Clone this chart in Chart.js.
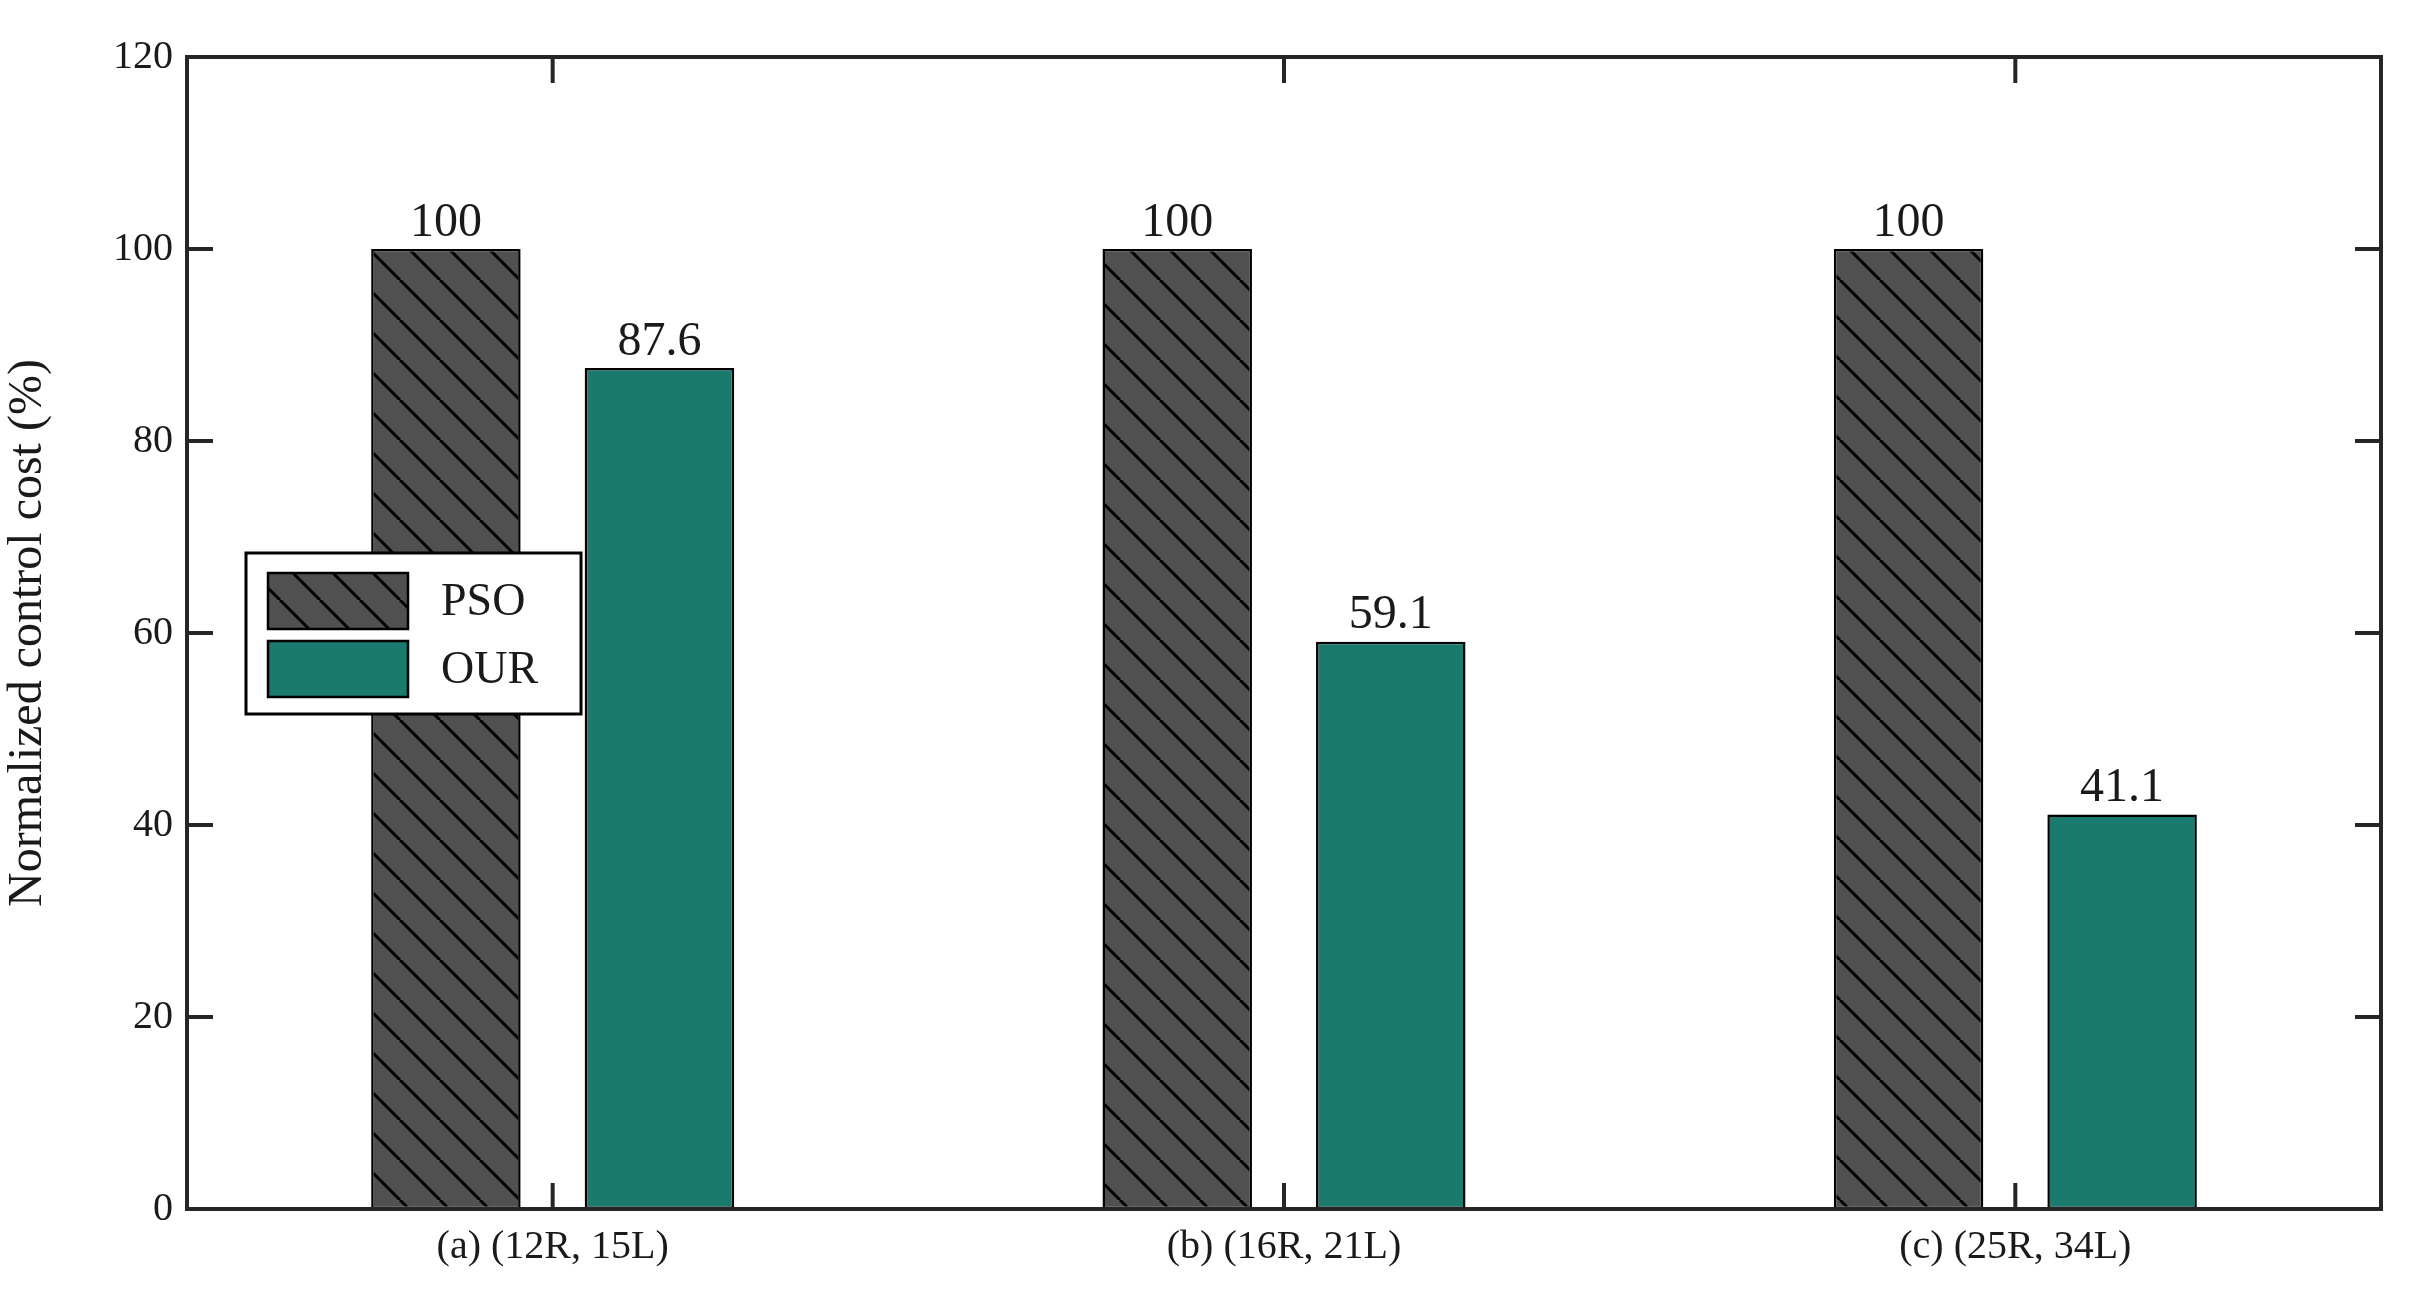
<!DOCTYPE html>
<html>
<head>
<meta charset="utf-8">
<script src="https://cdn.jsdelivr.net/npm/chart.js@4/dist/chart.umd.min.js"></script>
<style>
  html, body { margin: 0; padding: 0; background: #fff; }
  #wrap { width: 2409px; height: 1296px; }
</style>
</head>
<body>
<div id="wrap"><canvas id="chart" width="2409" height="1296"></canvas></div>
<script>
const categories = ["(a) (12R, 15L)", "(b) (16R, 21L)", "(c) (25R, 34L)"];
const psoValues = [100, 100, 100];
const ourValues = [87.6, 59.1, 41.1];
const yTicks = [0, 20, 40, 60, 80, 100, 120];

const FONT = "'Liberation Serif', 'Times New Roman', serif";

// diagonal "\" hatch for PSO bars
function makeHatch() {
    const c = document.createElement("canvas");
    c.width = 40; c.height = 40;
    const g = c.getContext("2d");
    g.fillStyle = "#505050";
    g.fillRect(0, 0, 40, 40);
    g.strokeStyle = "#000";
    g.lineWidth = 3;
    for (let k = -40; k <= 40; k += 40) {
        g.beginPath();
        g.moveTo(k, 0);
        g.lineTo(k + 40, 40);
        g.stroke();
    }
    return g.createPattern(c, "repeat");
}
const hatch = makeHatch();

const frameAndLabels = {
    id: "frameAndLabels",
    afterDatasetsDraw(chart) {
        const { ctx, chartArea: a, scales } = chart;
        ctx.save();
        // frame
        ctx.strokeStyle = "#262626";
        ctx.lineWidth = 4;
        ctx.strokeRect(a.left, a.top, a.right - a.left, a.bottom - a.top);
        // y ticks (inward both sides)
        yTicks.forEach((v) => {
            const y = scales.y.getPixelForValue(v);
            ctx.beginPath();
            ctx.moveTo(a.left, y); ctx.lineTo(a.left + 26, y);
            ctx.moveTo(a.right, y); ctx.lineTo(a.right - 26, y);
            ctx.stroke();
        });
        // x ticks (inward both sides)
        categories.forEach((c, i) => {
            const x = scales.x.getPixelForValue(i);
            ctx.beginPath();
            ctx.moveTo(x, a.bottom); ctx.lineTo(x, a.bottom - 26);
            ctx.moveTo(x, a.top); ctx.lineTo(x, a.top + 26);
            ctx.stroke();
        });
        // value labels
        ctx.fillStyle = "#1a1a1a";
        ctx.font = "48px " + FONT;
        ctx.textAlign = "center";
        ctx.textBaseline = "bottom";
        chart.data.datasets.forEach((ds, di) => {
            chart.getDatasetMeta(di).data.forEach((bar, i) => {
                ctx.fillText(String(ds.data[i]), bar.x, bar.y - 2);
            });
        });
        // legend box
        const lx = 246, ly = 553, lw = 335, lh = 161;
        ctx.fillStyle = "#fff";
        ctx.fillRect(lx, ly, lw, lh);
        ctx.strokeStyle = "#000";
        ctx.lineWidth = 3;
        ctx.strokeRect(lx, ly, lw, lh);
        const items = [["PSO", hatch], ["OUR", "#1a7a6e"]];
        items.forEach(([name, fill], k) => {
            const sy = ly + 20 + k * 68;
            ctx.fillStyle = fill;
            ctx.fillRect(lx + 22, sy, 140, 56);
            ctx.lineWidth = 2.5;
            ctx.strokeRect(lx + 22, sy, 140, 56);
            ctx.fillStyle = "#1a1a1a";
            ctx.font = "46px " + FONT;
            ctx.textAlign = "left";
            ctx.textBaseline = "middle";
            ctx.fillText(name, lx + 195, sy + 30);
        });
        ctx.restore();
    },
};

new Chart(document.getElementById("chart"), {
    type: "bar",
    data: {
        labels: categories,
        datasets: [
            { label: "PSO", data: psoValues, backgroundColor: hatch, borderColor: "#000", borderWidth: 2.5, borderSkipped: false },
            { label: "OUR", data: ourValues, backgroundColor: "#1a7a6e", borderColor: "#000", borderWidth: 2.5, borderSkipped: false },
        ],
    },
    options: {
        responsive: false,
        animation: false,
        devicePixelRatio: 1,
        categoryPercentage: 0.584,
        barPercentage: 0.7,
        layout: { padding: { top: 57, right: 28, left: 0, bottom: 0 } },
        plugins: { legend: { display: false }, tooltip: { enabled: false } },
        scales: {
            x: {
                grid: { display: false, drawTicks: false },
                border: { display: false },
                ticks: { color: "#1a1a1a", font: { family: FONT, size: 40 }, padding: 14 },
                afterFit: (s) => { s.height = 87; },
            },
            y: {
                min: 0, max: 120,
                grid: { display: false, drawTicks: false },
                border: { display: false },
                ticks: { stepSize: 20, color: "#1a1a1a", font: { family: FONT, size: 40 }, padding: 14 },
                title: { display: true, text: "Normalized control cost (%)", color: "#1a1a1a", font: { family: FONT, size: 48 }, padding: 0 },
                afterFit: (s) => { s.width = 187; },
            },
        },
    },
    plugins: [frameAndLabels],
});
</script>
</body>
</html>
